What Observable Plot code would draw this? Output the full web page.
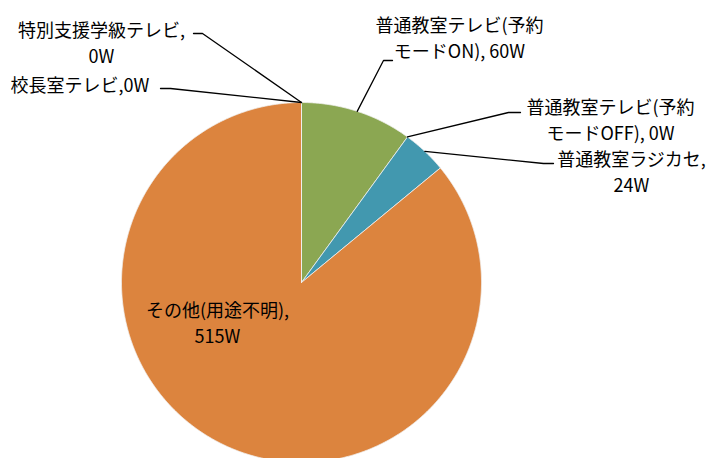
<!DOCTYPE html>
<html><head><meta charset="utf-8">
<script src="https://cdn.jsdelivr.net/npm/d3@7"></script>
<script src="https://cdn.jsdelivr.net/npm/@observablehq/plot@0.6"></script>
<style>
html,body{margin:0;padding:0;background:#fff;overflow:hidden;}
svg{display:block;}
</style></head>
<body><div id="chart"></div>
<script>
// data (clockwise from 12 o'clock)
const names = ["普通教室テレビ(予約モードON)", "普通教室テレビ(予約モードOFF)", "普通教室ラジカセ", "その他(用途不明)", "特別支援学級テレビ", "校長室テレビ"];
const values = [60, 0, 24, 515, 0, 0];
const labels = [
  "普通教室テレビ(予約\nモードON), 60W",
  "普通教室テレビ(予約\nモードOFF), 0W",
  "普通教室ラジカセ,\n24W",
  "その他(用途不明),\n515W",
  "特別支援学級テレビ,\n0W",
  "校長室テレビ,0W"
];
const colors = ["#8BA752", "#8BA752", "#4298AF", "#DC843E", "#DC843E", "#DC843E"];

// layout (pixels)
const W = 708, H = 458, CX = 301, CY = 282, R = 180;
const labelPos = [ // text block centre, anchor
  {x: 459, y: 36, anchor: "middle"},
  {x: 610, y: 118, anchor: "middle"},
  {x: 631, y: 170, anchor: "middle"},
  {x: 217, y: 321, anchor: "middle"},
  {x: 101, y: 41, anchor: "middle"},
  {x: 10, y: 83, anchor: "start"}
];
const leaders = [ // elbow & end points; null = no leader
  [[383, 60], [392, 60]],
  [[508, 112], [520, 112]],
  [[543, 163], [553, 163]],
  null,
  [[202, 33], [193, 33]],
  [[170, 88], [160, 88]]
];

const px = (x) => x - CX, py = (y) => CY - y;

const arcs = d3.pie().sort(null).value((d, i) => values[i])(names);
const marks = [];
arcs.forEach((a, i) => {
  if (a.endAngle - a.startAngle <= 0) return;
  const pts = [[0, 0]];
  const n = Math.max(2, Math.ceil((a.endAngle - a.startAngle) / 0.005));
  for (let k = 0; k <= n; k++) {
    const t = a.startAngle + (a.endAngle - a.startAngle) * k / n;
    pts.push([Math.sin(t) * R, Math.cos(t) * R]);
  }
  pts.push([0, 0]);
  marks.push(Plot.line(pts, {x: d => d[0], y: d => d[1], fill: colors[i], stroke: "#f0f0f0", strokeWidth: 0.8, strokeLinejoin: "round", curve: "linear"}));
});
// slice boundary at 12 o'clock
marks.push(Plot.line([[0,0],[0,R]], {x: d => d[0], y: d => d[1], stroke: "#f0f0f0", strokeWidth: 0.8}));

arcs.forEach((a, i) => {
  const L = leaders[i];
  if (!L) return;
  const m = (a.startAngle + a.endAngle) / 2;
  const pts = [[Math.sin(m) * R, Math.cos(m) * R], [px(L[0][0]), py(L[0][1])], [px(L[1][0]), py(L[1][1])]];
  marks.push(Plot.line(pts, {x: d => d[0], y: d => d[1], stroke: "#000", strokeWidth: 1.3}));
});

labels.forEach((t, i) => {
  const p = labelPos[i];
  marks.push(Plot.text([t], {x: () => px(p.x), y: () => py(p.y), text: d => d, textAnchor: p.anchor, lineAnchor: "middle", lineHeight: 1.45, fontSize: 18, fill: "#000", fontFamily: "'Noto Sans CJK JP', sans-serif"}));
});

const chart = Plot.plot({
  width: W, height: H, margin: 0,
  x: {domain: [px(0), px(W)], axis: null},
  y: {domain: [py(H), py(0)], axis: null},
  marks
});
document.getElementById("chart").appendChild(chart);
</script></body></html>
